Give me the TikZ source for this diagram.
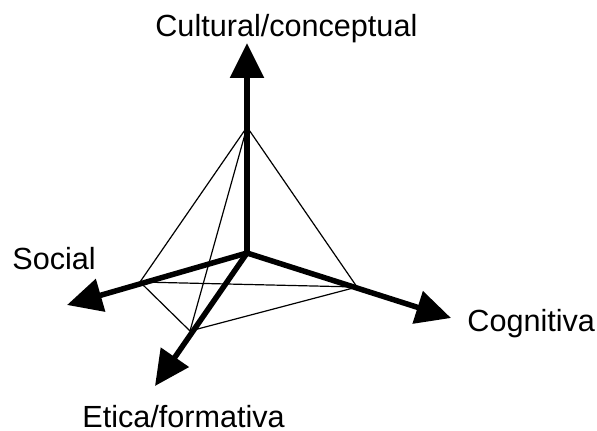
\documentclass[tikz,border=0pt]{standalone}
\usepackage{fontspec}
\setmainfont{Liberation Sans}
\usetikzlibrary{arrows.meta}
\begin{document}
\begin{tikzpicture}[x=0.5pt,y=-0.5pt,
  axis/.style={line width=2.75pt,-{Triangle[length=17.5pt,width=16.5pt]}},
  edge/.style={line width=0.6pt},
  lbl/.style={inner sep=0pt,anchor=base west,font=\fontsize{15.3pt}{18pt}\selectfont}]
\useasboundingbox (0,0) rectangle (597,431);
% tetrahedron vertices
\coordinate (O) at (247,253);
\coordinate (A) at (247,127);
\coordinate (L) at (140,282);
\coordinate (R) at (357,287);
\coordinate (B) at (190,331);
% axis tips
\coordinate (Ttop) at (247,43);
\coordinate (Tsoc) at (67,305);
\coordinate (Tcog) at (451,318);
\coordinate (Teti) at (155,386);
% thin edges
\draw[edge] (A) -- (L);
\draw[edge] (A) -- (R);
\draw[edge] (A) -- (B);
\draw[edge] (L) -- (R);
\draw[edge] (L) -- (B);
\draw[edge] (B) -- (R);
% axes
\draw[axis] (O) -- (Ttop);
\draw[axis] (O) -- (Tsoc);
\draw[axis] (O) -- (Tcog);
\draw[axis] (O) -- (Teti);
% labels
\node[lbl] (cul) at (155,37) {Cultural/conceptual};
\node[lbl] (soc) at (12,270) {Social};
\node[lbl] (cog) at (467,332) {Cognitiva};
\node[lbl] (eti) at (82,427) {Etica/formativa};
\end{tikzpicture}
\end{document}
